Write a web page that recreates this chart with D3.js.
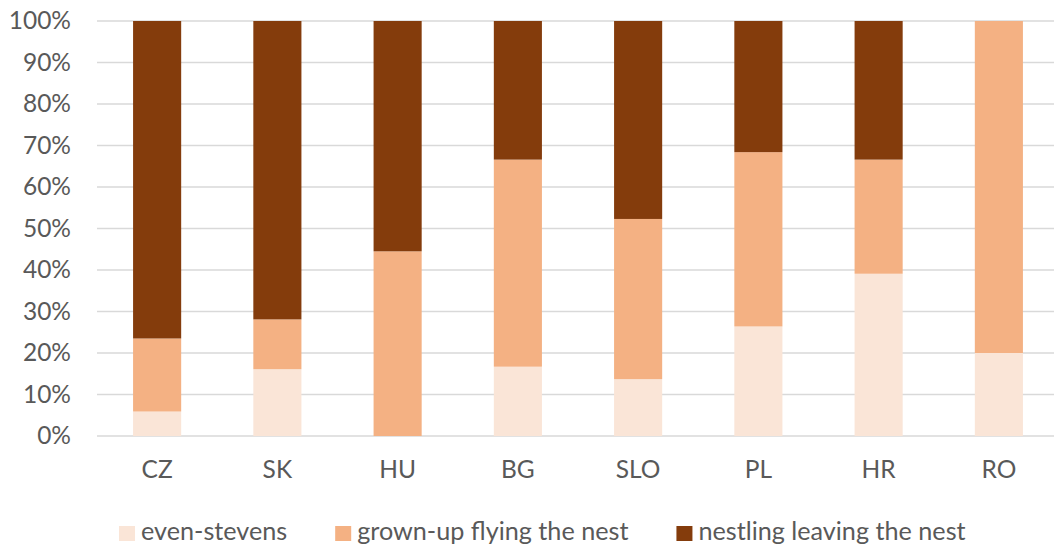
<!DOCTYPE html>
<html>
<head>
<meta charset="utf-8">
<script src="https://cdn.jsdelivr.net/npm/d3@7"></script>
<style>
  html, body { margin: 0; padding: 0; background: #ffffff; }
  svg { display: block; }
  text { font-family: Lato, "Open Sans", sans-serif; fill: #595959; }
</style>
</head>
<body>
<svg id="chart" width="1054" height="547"></svg>
<script>
const categories = ["CZ", "SK", "HU", "BG", "SLO", "PL", "HR", "RO"];
const seriesNames = ["even-stevens", "grown-up flying the nest", "nestling leaving the nest"];
const evenStevens = [5.9, 16.1, 0, 16.7, 13.7, 26.4, 39.1, 20.0];
const grownUp = [17.6, 12.0, 44.5, 49.9, 38.6, 42.0, 27.5, 80.0];
const nestling = [76.5, 71.9, 55.5, 33.4, 47.7, 31.6, 33.4, 0.0];
const yTicks = [0, 10, 20, 30, 40, 50, 60, 70, 80, 90, 100];
const colors = ["#FAE5D7", "#F4B183", "#843C0C"];

const seriesValues = [evenStevens, grownUp, nestling];
const rows = categories.map((c, i) => {
  const r = { cat: c };
  seriesNames.forEach((s, k) => { r[s] = seriesValues[k][i]; });
  return r;
});

const svg = d3.select("#chart");
const plotLeft = 97, plotRight = 1059, plotTop = 21, plotBottom = 436;

const x = d3.scaleBand().domain(categories).range([plotLeft, plotRight]).paddingInner(0.6).paddingOuter(0.3);
const y = d3.scaleLinear().domain([0, 100]).range([plotBottom, plotTop]);

// gridlines
svg.append("g").selectAll("line").data(yTicks).join("line")
  .attr("x1", plotLeft).attr("x2", 1054)
  .attr("y1", d => y(d)).attr("y2", d => y(d))
  .attr("stroke", "#D9D9D9").attr("stroke-width", 1.5);

// y axis labels
const yAxis = d3.axisLeft(y).tickValues(yTicks).tickFormat(d => d + "%").tickSize(0).tickPadding(0);
const gy = svg.append("g").attr("transform", `translate(71,0)`).call(yAxis);
gy.select(".domain").remove();
gy.selectAll("text").attr("font-family", "Lato, sans-serif").attr("font-size", 24.5).attr("fill", "#595959");

// stacked bars
const stack = d3.stack().keys(seriesNames);
const layers = stack(rows);
svg.append("g").selectAll("g").data(layers).join("g")
  .attr("fill", (d, i) => colors[i])
  .selectAll("rect").data(d => d).join("rect")
  .attr("x", d => x(d.data.cat))
  .attr("width", x.bandwidth())
  .attr("y", d => y(d[1]))
  .attr("height", d => Math.max(0, y(d[0]) - y(d[1])));

// x axis labels
const xAxis = d3.axisBottom(x).tickSize(0).tickPadding(0);
const gx = svg.append("g").attr("transform", `translate(0,${plotBottom})`).call(xAxis);
gx.select(".domain").remove();
gx.selectAll("text").attr("font-family", "Lato, sans-serif").attr("font-size", 24.5).attr("fill", "#595959")
  .attr("dy", null).attr("y", 42);

// legend
const legend = svg.append("g");
let lx = 119;
seriesNames.forEach((s, i) => {
  const g = legend.append("g");
  g.append("rect").attr("x", lx).attr("y", 526).attr("width", 16).attr("height", 15).attr("fill", colors[i]);
  const t = g.append("text").attr("x", lx + 22).attr("y", 540).attr("font-size", 25.2).text(s);
  const w = t.node().getComputedTextLength();
  lx += 22 + w + 48;
});
</script>
</body>
</html>
